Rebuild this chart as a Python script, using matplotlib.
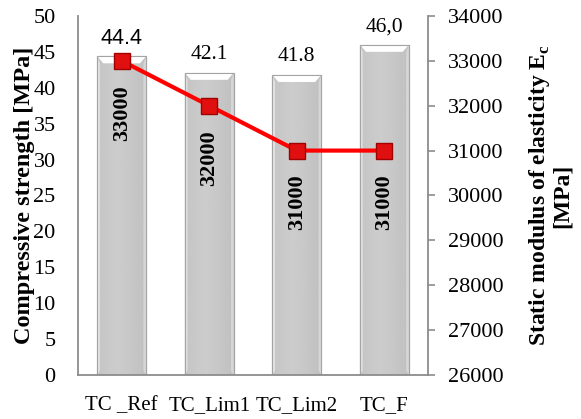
import numpy as np
import matplotlib
matplotlib.use("Agg")
import matplotlib.pyplot as plt
from matplotlib.patches import Polygon

categories = ["TC _Ref", "TC_Lim1", "TC_Lim2", "TC_F"]
strength = [44.4, 42.1, 41.8, 46.0]
strength_labels = ["44.4", "42.1", "41.8", "46,0"]
modulus = [33000, 32000, 31000, 31000]

plt.rcParams['font.family'] = ['Liberation Serif', 'DejaVu Serif']

fig = plt.figure(figsize=(5.81, 4.19), dpi=100)
ax = fig.add_axes([0.134, 0.105, 0.603, 0.857])
x = np.arange(len(categories))
bw = 0.56

bars = ax.bar(x, strength, width=bw, color="#c2c2c2", edgecolor="#9a9a9a", linewidth=0.8, zorder=2)

# gradient + bevel to imitate the excel 3d look
g = np.linspace(0, 1, 64)
grad = 0.80 - 0.09 * np.abs(g - 0.4) ** 1.2
for b, h in zip(bars, strength):
    x0 = b.get_x()
    im = ax.imshow(grad[None, :], cmap="gray", vmin=0, vmax=1, aspect="auto",
                   extent=[x0, x0 + bw, 0, h], zorder=2.1)
    im.set_clip_path(b)
    cap = 1.0
    sx = 0.07
    top = Polygon([[x0, h], [x0 + bw, h], [x0 + bw - sx, h - cap], [x0 + sx, h - cap]],
                  closed=True, facecolor="white", edgecolor="none", zorder=2.2)
    lft = Polygon([[x0, h], [x0 + sx * 0.45, h - cap], [x0 + sx * 0.45, 0.6], [x0, 0]],
                  closed=True, facecolor="#e2e2e2", edgecolor="none", zorder=2.2)
    rgt = Polygon([[x0 + bw, h], [x0 + bw - sx * 0.45, h - cap], [x0 + bw - sx * 0.45, 0.6], [x0 + bw, 0]],
                  closed=True, facecolor="#d6d6d6", edgecolor="none", zorder=2.2)
    ax.add_patch(top)
    ax.add_patch(lft)
    ax.add_patch(rgt)
    ax.add_patch(Polygon([[x0, 0], [x0 + bw, 0], [x0 + bw, h], [x0, h]],
                         closed=True, fill=False, edgecolor="#a4a4a4", linewidth=0.8, zorder=2.3))

for i, (h, lab) in enumerate(zip(strength, strength_labels)):
    fam = ['Liberation Sans'] if i == 0 else ['Liberation Serif']
    ax.annotate(lab, (x[i], h), xytext=(0, 18), textcoords="offset pixels",
                ha="center", va="center", fontsize=15.5, family=fam)

ax.set_xlim(-0.5, 3.5)
ax.set_ylim(0, 50)
ax.set_yticks(np.arange(0, 51, 5))
ax.set_xticks(x)
ax.set_xticklabels(categories)
ax.tick_params(axis="y", length=0, pad=16, labelsize=16)
ax.tick_params(axis="x", length=0, pad=15, labelsize=15)
ax.spines["top"].set_visible(False)
ax.spines["right"].set_visible(False)
for s in ["left", "bottom"]:
    ax.spines[s].set_color("#8c8c8c")
    ax.spines[s].set_linewidth(1.3)
ax.set_ylabel("Compressive strength [MPa]", fontsize=17.5, fontweight="bold", labelpad=-1)

ax2 = ax.twinx()
ax2.set_position(ax.get_position())
ax2.plot(x, modulus, color="#ff0000", linewidth=3, marker="s", markersize=11,
         markerfacecolor="#e01010", markeredgecolor="#a00000", markeredgewidth=1.0, zorder=5)
for i, v in enumerate(modulus):
    ax2.annotate(str(v), (x[i], v), xytext=(0, -52), textcoords="offset pixels",
                 ha="center", va="center", rotation=90, fontsize=16, fontweight="bold")
ax2.set_ylim(26000, 34000)
ax2.set_yticks(np.arange(26000, 34001, 1000))
ax2.tick_params(axis="y", length=5, width=1.2, color="#8c8c8c", pad=9, labelsize=16)
for s in ["top", "left", "bottom"]:
    ax2.spines[s].set_visible(False)
ax2.spines["right"].set_color("#8c8c8c")
ax2.spines["right"].set_linewidth(1.3)
ax2.set_ylabel("Static modulus of elasticity E$_\\mathregular{c}$\n[MPa]", fontsize=17,
               fontweight="bold", labelpad=17, linespacing=1.0)
ax2.set_zorder(ax.get_zorder() + 1)
ax2.patch.set_visible(False)

fig.savefig("out.png", dpi=100)
